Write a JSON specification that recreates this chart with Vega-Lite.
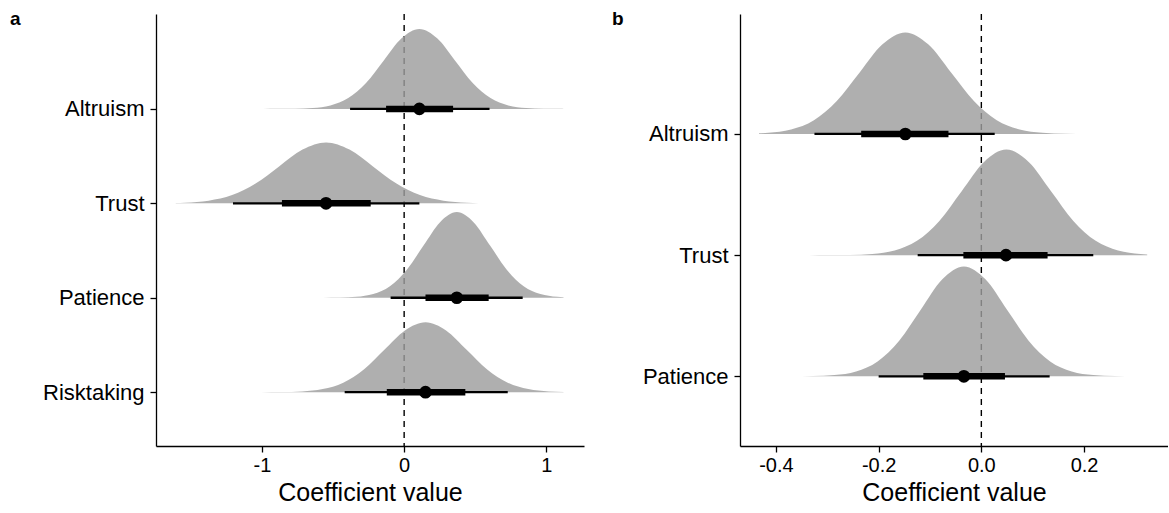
{
  "$schema": "https://vega.github.io/schema/vega-lite/v6.json",
  "autosize": {"type": "pad"},
  "padding": {"left": 10, "top": 10, "right": 0, "bottom": 0},
  "background": "white",
  "config": {
    "view": {"stroke": null},
    "font": "Liberation Sans",
    "axis": {
      "grid": false,
      "domainColor": "black",
      "domainWidth": 1.3,
      "tickColor": "black",
      "tickWidth": 1.3,
      "tickSize": 6,
      "labelColor": "black",
      "titleColor": "black",
      "labelFont": "Liberation Sans",
      "titleFont": "Liberation Sans",
      "titleFontWeight": "normal"
    },
    "title": {"font": "Liberation Sans", "fontWeight": "bold", "fontSize": 19, "color": "black"}
  },
  "datasets": {
    "dens": [
      {"p": "a", "v": "Altruism", "x": -0.99, "b": 4, "t": 4.0},
      {"p": "a", "v": "Altruism", "x": -0.893, "b": 4, "t": 4.0003},
      {"p": "a", "v": "Altruism", "x": -0.768, "b": 4, "t": 4.0019},
      {"p": "a", "v": "Altruism", "x": -0.643, "b": 4, "t": 4.0094},
      {"p": "a", "v": "Altruism", "x": -0.518, "b": 4, "t": 4.0372},
      {"p": "a", "v": "Altruism", "x": -0.393, "b": 4, "t": 4.1146},
      {"p": "a", "v": "Altruism", "x": -0.268, "b": 4, "t": 4.275},
      {"p": "a", "v": "Altruism", "x": -0.143, "b": 4, "t": 4.5137},
      {"p": "a", "v": "Altruism", "x": -0.018, "b": 4, "t": 4.7475},
      {"p": "a", "v": "Altruism", "x": 0.107, "b": 4, "t": 4.847},
      {"p": "a", "v": "Altruism", "x": 0.232, "b": 4, "t": 4.7475},
      {"p": "a", "v": "Altruism", "x": 0.357, "b": 4, "t": 4.5137},
      {"p": "a", "v": "Altruism", "x": 0.482, "b": 4, "t": 4.275},
      {"p": "a", "v": "Altruism", "x": 0.607, "b": 4, "t": 4.1146},
      {"p": "a", "v": "Altruism", "x": 0.732, "b": 4, "t": 4.0372},
      {"p": "a", "v": "Altruism", "x": 0.857, "b": 4, "t": 4.0094},
      {"p": "a", "v": "Altruism", "x": 0.982, "b": 4, "t": 4.0019},
      {"p": "a", "v": "Altruism", "x": 1.107, "b": 4, "t": 4.0003},
      {"p": "a", "v": "Altruism", "x": 1.12, "b": 4, "t": 4.0},

      {"p": "a", "v": "Trust", "x": -1.605, "b": 3, "t": 3.003},
      {"p": "a", "v": "Trust", "x": -1.539, "b": 3, "t": 3.0072},
      {"p": "a", "v": "Trust", "x": -1.374, "b": 3, "t": 3.0283},
      {"p": "a", "v": "Trust", "x": -1.209, "b": 3, "t": 3.0873},
      {"p": "a", "v": "Trust", "x": -1.044, "b": 3, "t": 3.2094},
      {"p": "a", "v": "Trust", "x": -0.879, "b": 3, "t": 3.3912},
      {"p": "a", "v": "Trust", "x": -0.714, "b": 3, "t": 3.5692},
      {"p": "a", "v": "Trust", "x": -0.549, "b": 3, "t": 3.645},
      {"p": "a", "v": "Trust", "x": -0.384, "b": 3, "t": 3.5692},
      {"p": "a", "v": "Trust", "x": -0.219, "b": 3, "t": 3.3912},
      {"p": "a", "v": "Trust", "x": -0.054, "b": 3, "t": 3.2094},
      {"p": "a", "v": "Trust", "x": 0.111, "b": 3, "t": 3.0873},
      {"p": "a", "v": "Trust", "x": 0.276, "b": 3, "t": 3.0283},
      {"p": "a", "v": "Trust", "x": 0.441, "b": 3, "t": 3.0072},
      {"p": "a", "v": "Trust", "x": 0.606, "b": 3, "t": 3.0014},
      {"p": "a", "v": "Trust", "x": 0.771, "b": 3, "t": 3.0002},
      {"p": "a", "v": "Trust", "x": 0.88, "b": 3, "t": 3.0},

      {"p": "a", "v": "Patience", "x": -0.69, "b": 2, "t": 2.0},
      {"p": "a", "v": "Patience", "x": -0.57, "b": 2, "t": 2.0003},
      {"p": "a", "v": "Patience", "x": -0.4525, "b": 2, "t": 2.002},
      {"p": "a", "v": "Patience", "x": -0.335, "b": 2, "t": 2.0101},
      {"p": "a", "v": "Patience", "x": -0.2175, "b": 2, "t": 2.0398},
      {"p": "a", "v": "Patience", "x": -0.1, "b": 2, "t": 2.1227},
      {"p": "a", "v": "Patience", "x": 0.0175, "b": 2, "t": 2.2945},
      {"p": "a", "v": "Patience", "x": 0.135, "b": 2, "t": 2.5501},
      {"p": "a", "v": "Patience", "x": 0.2525, "b": 2, "t": 2.8004},
      {"p": "a", "v": "Patience", "x": 0.37, "b": 2, "t": 2.907},
      {"p": "a", "v": "Patience", "x": 0.4875, "b": 2, "t": 2.8004},
      {"p": "a", "v": "Patience", "x": 0.605, "b": 2, "t": 2.5501},
      {"p": "a", "v": "Patience", "x": 0.7225, "b": 2, "t": 2.2945},
      {"p": "a", "v": "Patience", "x": 0.84, "b": 2, "t": 2.1227},
      {"p": "a", "v": "Patience", "x": 0.9575, "b": 2, "t": 2.0398},
      {"p": "a", "v": "Patience", "x": 1.075, "b": 2, "t": 2.0101},
      {"p": "a", "v": "Patience", "x": 1.12, "b": 2, "t": 2.0056},

      {"p": "a", "v": "Risktaking", "x": -1.12, "b": 1, "t": 1.0},
      {"p": "a", "v": "Risktaking", "x": -1.006, "b": 1, "t": 1.0002},
      {"p": "a", "v": "Risktaking", "x": -0.8615, "b": 1, "t": 1.0016},
      {"p": "a", "v": "Risktaking", "x": -0.717, "b": 1, "t": 1.0082},
      {"p": "a", "v": "Risktaking", "x": -0.5725, "b": 1, "t": 1.0325},
      {"p": "a", "v": "Risktaking", "x": -0.428, "b": 1, "t": 1.1003},
      {"p": "a", "v": "Risktaking", "x": -0.2835, "b": 1, "t": 1.2406},
      {"p": "a", "v": "Risktaking", "x": -0.139, "b": 1, "t": 1.4494},
      {"p": "a", "v": "Risktaking", "x": 0.0055, "b": 1, "t": 1.6539},
      {"p": "a", "v": "Risktaking", "x": 0.15, "b": 1, "t": 1.741},
      {"p": "a", "v": "Risktaking", "x": 0.2945, "b": 1, "t": 1.6539},
      {"p": "a", "v": "Risktaking", "x": 0.439, "b": 1, "t": 1.4494},
      {"p": "a", "v": "Risktaking", "x": 0.5835, "b": 1, "t": 1.2406},
      {"p": "a", "v": "Risktaking", "x": 0.728, "b": 1, "t": 1.1003},
      {"p": "a", "v": "Risktaking", "x": 0.8725, "b": 1, "t": 1.0325},
      {"p": "a", "v": "Risktaking", "x": 1.017, "b": 1, "t": 1.0082},
      {"p": "a", "v": "Risktaking", "x": 1.12, "b": 1, "t": 1.0026},

      {"p": "b", "v": "Altruism", "x": -0.433, "b": 3, "t": 3.005},
      {"p": "b", "v": "Altruism", "x": -0.415, "b": 3, "t": 3.0093},
      {"p": "b", "v": "Altruism", "x": -0.3705, "b": 3, "t": 3.0368},
      {"p": "b", "v": "Altruism", "x": -0.326, "b": 3, "t": 3.1134},
      {"p": "b", "v": "Altruism", "x": -0.2815, "b": 3, "t": 3.2721},
      {"p": "b", "v": "Altruism", "x": -0.237, "b": 3, "t": 3.5082},
      {"p": "b", "v": "Altruism", "x": -0.1925, "b": 3, "t": 3.7395},
      {"p": "b", "v": "Altruism", "x": -0.148, "b": 3, "t": 3.838},
      {"p": "b", "v": "Altruism", "x": -0.1035, "b": 3, "t": 3.7395},
      {"p": "b", "v": "Altruism", "x": -0.059, "b": 3, "t": 3.5082},
      {"p": "b", "v": "Altruism", "x": -0.0145, "b": 3, "t": 3.2721},
      {"p": "b", "v": "Altruism", "x": 0.03, "b": 3, "t": 3.1134},
      {"p": "b", "v": "Altruism", "x": 0.0745, "b": 3, "t": 3.0368},
      {"p": "b", "v": "Altruism", "x": 0.119, "b": 3, "t": 3.0093},
      {"p": "b", "v": "Altruism", "x": 0.1635, "b": 3, "t": 3.0018},
      {"p": "b", "v": "Altruism", "x": 0.208, "b": 3, "t": 3.0003},
      {"p": "b", "v": "Altruism", "x": 0.252, "b": 3, "t": 3.0},

      {"p": "b", "v": "Trust", "x": -0.335, "b": 2, "t": 2.0},
      {"p": "b", "v": "Trust", "x": -0.299, "b": 2, "t": 2.0003},
      {"p": "b", "v": "Trust", "x": -0.256, "b": 2, "t": 2.0019},
      {"p": "b", "v": "Trust", "x": -0.2123, "b": 2, "t": 2.0097},
      {"p": "b", "v": "Trust", "x": -0.1688, "b": 2, "t": 2.0382},
      {"p": "b", "v": "Trust", "x": -0.1253, "b": 2, "t": 2.1178},
      {"p": "b", "v": "Trust", "x": -0.0818, "b": 2, "t": 2.2828},
      {"p": "b", "v": "Trust", "x": -0.0383, "b": 2, "t": 2.5283},
      {"p": "b", "v": "Trust", "x": 0.0052, "b": 2, "t": 2.7687},
      {"p": "b", "v": "Trust", "x": 0.0487, "b": 2, "t": 2.871},
      {"p": "b", "v": "Trust", "x": 0.0922, "b": 2, "t": 2.7687},
      {"p": "b", "v": "Trust", "x": 0.1357, "b": 2, "t": 2.5283},
      {"p": "b", "v": "Trust", "x": 0.1792, "b": 2, "t": 2.2828},
      {"p": "b", "v": "Trust", "x": 0.2227, "b": 2, "t": 2.1178},
      {"p": "b", "v": "Trust", "x": 0.2662, "b": 2, "t": 2.0382},
      {"p": "b", "v": "Trust", "x": 0.3097, "b": 2, "t": 2.0097},
      {"p": "b", "v": "Trust", "x": 0.323, "b": 2, "t": 2.006},

      {"p": "b", "v": "Patience", "x": -0.426, "b": 1, "t": 1.0},
      {"p": "b", "v": "Patience", "x": -0.37, "b": 1, "t": 1.0003},
      {"p": "b", "v": "Patience", "x": -0.328, "b": 1, "t": 1.002},
      {"p": "b", "v": "Patience", "x": -0.286, "b": 1, "t": 1.0101},
      {"p": "b", "v": "Patience", "x": -0.244, "b": 1, "t": 1.0398},
      {"p": "b", "v": "Patience", "x": -0.202, "b": 1, "t": 1.1227},
      {"p": "b", "v": "Patience", "x": -0.16, "b": 1, "t": 1.2945},
      {"p": "b", "v": "Patience", "x": -0.118, "b": 1, "t": 1.5501},
      {"p": "b", "v": "Patience", "x": -0.076, "b": 1, "t": 1.8004},
      {"p": "b", "v": "Patience", "x": -0.034, "b": 1, "t": 1.907},
      {"p": "b", "v": "Patience", "x": 0.008, "b": 1, "t": 1.8004},
      {"p": "b", "v": "Patience", "x": 0.05, "b": 1, "t": 1.5501},
      {"p": "b", "v": "Patience", "x": 0.092, "b": 1, "t": 1.2945},
      {"p": "b", "v": "Patience", "x": 0.134, "b": 1, "t": 1.1227},
      {"p": "b", "v": "Patience", "x": 0.176, "b": 1, "t": 1.0398},
      {"p": "b", "v": "Patience", "x": 0.218, "b": 1, "t": 1.0101},
      {"p": "b", "v": "Patience", "x": 0.26, "b": 1, "t": 1.002},
      {"p": "b", "v": "Patience", "x": 0.302, "b": 1, "t": 1.0003},
      {"p": "b", "v": "Patience", "x": 0.323, "b": 1, "t": 1.0}
    ],
    "intv": [
      {"p": "a", "v": "Altruism", "pos": 4, "m": 0.107, "l66": -0.127, "u66": 0.344, "l95": -0.38, "u95": 0.6},
      {"p": "a", "v": "Trust", "pos": 3, "m": -0.549, "l66": -0.859, "u66": -0.235, "l95": -1.203, "u95": 0.107},
      {"p": "a", "v": "Patience", "pos": 2, "m": 0.37, "l66": 0.15, "u66": 0.594, "l95": -0.095, "u95": 0.833},
      {"p": "a", "v": "Risktaking", "pos": 1, "m": 0.15, "l66": -0.122, "u66": 0.43, "l95": -0.418, "u95": 0.728},
      {"p": "b", "v": "Altruism", "pos": 3, "m": -0.148, "l66": -0.234, "u66": -0.064, "l95": -0.325, "u95": 0.026},
      {"p": "b", "v": "Trust", "pos": 2, "m": 0.048, "l66": -0.035, "u66": 0.129, "l95": -0.124, "u95": 0.218},
      {"p": "b", "v": "Patience", "pos": 1, "m": -0.034, "l66": -0.113, "u66": 0.046, "l95": -0.2, "u95": 0.133}
    ]
  },
  "bounds": "flush",
  "spacing": 156,
  "hconcat": [
    {
      "width": 428,
      "height": 432,
      "title": {"text": "a", "anchor": "start", "frame": "group", "dx": -146, "dy": 18, "baseline": "top", "offset": 2},
      "layer": [
        {
          "data": {"values": [{}]},
          "mark": {"type": "rule", "strokeDash": [6, 5], "strokeWidth": 1.4, "color": "black"},
          "encoding": {"x": {"datum": 0, "type": "quantitative"}}
        },
        {
          "data": {"name": "dens"},
          "transform": [{"filter": "datum.p == 'a'"}],
          "mark": {"type": "area", "interpolate": "monotone", "fill": "#9e9e9e", "fillOpacity": 0.82},
          "encoding": {
            "x": {"field": "x", "type": "quantitative",
              "scale": {"domain": [-1.744, 1.264], "nice": false, "zero": false},
              "axis": {"values": [-1, 0, 1], "labelExpr": "(datum.value < 0 ? '-' : '') + format(abs(datum.value), 'd')",
                "labelFontSize": 20, "labelPadding": 3, "title": "Coefficient value", "titleFontSize": 25, "titlePadding": 5}},
            "y": {"field": "b", "type": "quantitative",
              "scale": {"domain": [0.43, 5.005], "nice": false, "zero": false},
              "axis": {"values": [1, 2, 3, 4], "labelExpr": "['', 'Risktaking', 'Patience', 'Trust', 'Altruism'][datum.value]",
                "title": null, "labelFontSize": 22, "labelPadding": 6}},
            "y2": {"field": "t"},
            "detail": {"field": "v"}
          }
        },
        {
          "data": {"name": "intv"},
          "transform": [{"filter": "datum.p == 'a'"}],
          "mark": {"type": "rule", "strokeWidth": 2.3, "color": "black"},
          "encoding": {"x": {"field": "l95", "type": "quantitative"}, "x2": {"field": "u95"}, "y": {"field": "pos", "type": "quantitative"}}
        },
        {
          "data": {"name": "intv"},
          "transform": [{"filter": "datum.p == 'a'"}],
          "mark": {"type": "rule", "strokeWidth": 6.5, "color": "black"},
          "encoding": {"x": {"field": "l66", "type": "quantitative"}, "x2": {"field": "u66"}, "y": {"field": "pos", "type": "quantitative"}}
        },
        {
          "data": {"name": "intv"},
          "transform": [{"filter": "datum.p == 'a'"}],
          "mark": {"type": "point", "filled": true, "size": 160, "color": "black", "opacity": 1},
          "encoding": {"x": {"field": "m", "type": "quantitative"}, "y": {"field": "pos", "type": "quantitative"}}
        }
      ]
    },
    {
      "width": 428,
      "height": 432,
      "title": {"text": "b", "anchor": "start", "frame": "group", "dx": -128, "dy": 18, "baseline": "top", "offset": 2},
      "layer": [
        {
          "data": {"values": [{}]},
          "mark": {"type": "rule", "strokeDash": [6, 5], "strokeWidth": 1.4, "color": "black"},
          "encoding": {"x": {"datum": 0, "type": "quantitative"}}
        },
        {
          "data": {"name": "dens"},
          "transform": [{"filter": "datum.p == 'b'"}],
          "mark": {"type": "area", "interpolate": "monotone", "fill": "#9e9e9e", "fillOpacity": 0.82},
          "encoding": {
            "x": {"field": "x", "type": "quantitative",
              "scale": {"domain": [-0.47, 0.3635], "nice": false, "zero": false},
              "axis": {"values": [-0.4, -0.2, 0, 0.2], "labelExpr": "(datum.value < 0 ? '-' : '') + format(abs(datum.value), '.1f')",
                "labelFontSize": 20, "labelPadding": 3, "title": "Coefficient value", "titleFontSize": 25, "titlePadding": 5}},
            "y": {"field": "b", "type": "quantitative",
              "scale": {"domain": [0.425, 3.99], "nice": false, "zero": false},
              "axis": {"values": [1, 2, 3], "labelExpr": "['', 'Patience', 'Trust', 'Altruism'][datum.value]",
                "title": null, "labelFontSize": 22, "labelPadding": 6}},
            "y2": {"field": "t"},
            "detail": {"field": "v"}
          }
        },
        {
          "data": {"name": "intv"},
          "transform": [{"filter": "datum.p == 'b'"}],
          "mark": {"type": "rule", "strokeWidth": 2.3, "color": "black"},
          "encoding": {"x": {"field": "l95", "type": "quantitative"}, "x2": {"field": "u95"}, "y": {"field": "pos", "type": "quantitative"}}
        },
        {
          "data": {"name": "intv"},
          "transform": [{"filter": "datum.p == 'b'"}],
          "mark": {"type": "rule", "strokeWidth": 6.5, "color": "black"},
          "encoding": {"x": {"field": "l66", "type": "quantitative"}, "x2": {"field": "u66"}, "y": {"field": "pos", "type": "quantitative"}}
        },
        {
          "data": {"name": "intv"},
          "transform": [{"filter": "datum.p == 'b'"}],
          "mark": {"type": "point", "filled": true, "size": 160, "color": "black", "opacity": 1},
          "encoding": {"x": {"field": "m", "type": "quantitative"}, "y": {"field": "pos", "type": "quantitative"}}
        }
      ]
    }
  ]
}
